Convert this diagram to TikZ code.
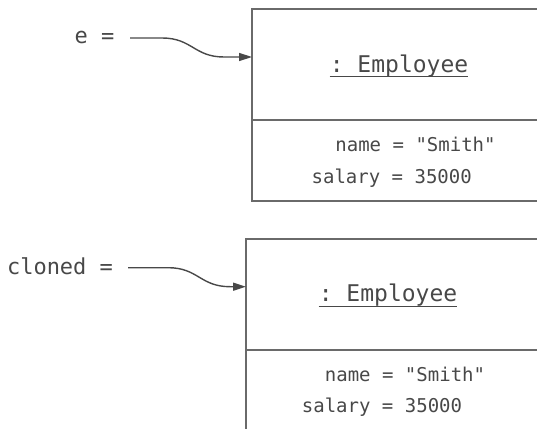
\documentclass[tikz,border=0pt]{standalone}
\usepackage{fontspec}
\setmonofont{DejaVu Sans Mono}
\usepackage{tikz}
\usetikzlibrary{positioning, arrows.meta}

\definecolor{inkgray}{HTML}{484848}
\definecolor{linegray}{HTML}{6A6A6A}

\begin{document}
\begin{tikzpicture}[
        x=1pt, y=-1pt,
        objbox/.style={rectangle, draw=linegray, line width=1.3pt, minimum width=348pt, inner sep=0pt, outer sep=0pt, anchor=north west},
        clsname/.style={inner sep=0pt, anchor=base, text=inkgray, font=\ttfamily\fontsize{23}{27}\selectfont},
        slot/.style={inner sep=0pt, anchor=base, text=inkgray, font=\ttfamily\fontsize{19}{23}\selectfont},
        refname/.style={inner sep=0pt, anchor=base, text=inkgray, font=\ttfamily\fontsize{22}{26}\selectfont},
        refarrow/.style={-{Triangle[length=13pt, width=8pt]}, draw=inkgray, line width=1.4pt},
        uline/.style={draw=inkgray, line width=1pt}
    ]
%
    \useasboundingbox (0,0) rectangle (537,428);
    \clip (0,0) rectangle (537,428);
%
    % Nodes
    \node[objbox, minimum height=111pt] (obj1) at (252,9) {};
    \node[objbox, minimum height=81pt, below=0pt of obj1] (slots1) {};
    \node[objbox, minimum height=111pt] (obj2) at (246,239) {};
    \node[objbox, minimum height=110pt, below=0pt of obj2] (slots2) {};
%
    \node[clsname] (cls1) at (399,72) {: Employee};
    \node[slot] (name1) at (415.5,151.7) {name = "Smith"};
    \node[slot] (salary1) at (391.7,183.3) {salary = 35000};
%
    \node[clsname] (cls2) at (388,301.7) {: Employee};
    \node[slot] (name2) at (405,381.7) {name = "Smith"};
    \node[slot] (salary2) at (382,412.7) {salary = 35000};
%
    \node[refname] (ref1) at (94.5,44) {e =};
    \node[refname] (ref2) at (60,274.3) {cloned =};
%
    % Underlines
    \draw[uline] (cls1.south west) -- (cls1.south east);
    \draw[uline] (cls2.south west) -- (cls2.south east);
%
    % Arrows
    \draw[refarrow] ([xshift=15.5pt, yshift=6pt]ref1.base east) -- ++(32,0)
        .. controls +(30,0) and +(-30,0) .. ++(62,19) -- ([yshift=7.5pt]obj1.west);
    \draw[refarrow] ([xshift=15pt, yshift=6.6pt]ref2.base east) -- ++(40,0)
        .. controls +(30,0) and +(-30,0) .. ++(62,19) -- ([yshift=7.8pt]obj2.west);
%
\end{tikzpicture}
\end{document}
